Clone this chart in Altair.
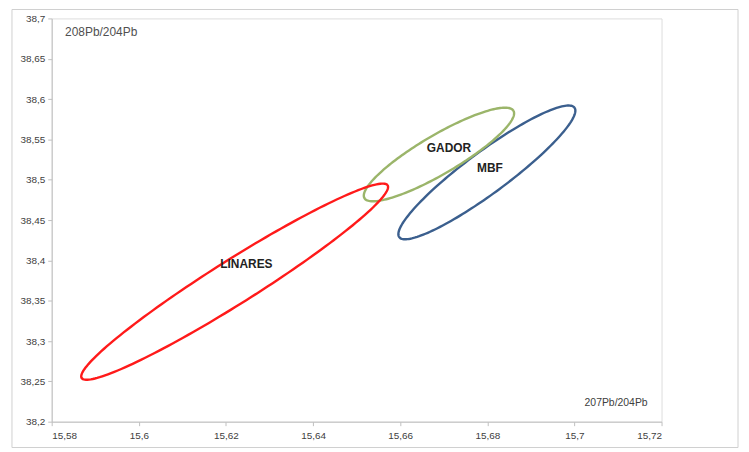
import altair as alt
import numpy as np
import pandas as pd

# Ellipse parameters (data units): centre and half-axis vectors
groups = ["MBF", "GADOR", "LINARES"]
center_x = [15.6799, 15.6689, 15.6220]
center_y = [38.5091, 38.5313, 38.3736]
major_dx = [0.020114, 0.017104, 0.03512]
major_dy = [0.080294, 0.054186, 0.119456]
minor_dx = [0.002851, 0.002258, 0.002668]
minor_dy = [-0.020812, -0.020812, -0.022906]
colors = ["#3b5f8e", "#9bb56a", "#ff1a1a"]

# Label positions
label_text = ["LINARES", "GADOR", "MBF"]
label_x = [15.6247, 15.6712, 15.6806]
label_y = [38.3958, 38.5387, 38.514]

x_ticks = [15.58, 15.6, 15.62, 15.64, 15.66, 15.68, 15.7, 15.72]
y_ticks = [38.2, 38.25, 38.3, 38.35, 38.4, 38.45, 38.5, 38.55, 38.6, 38.65, 38.7]

rows = []
t = np.linspace(0, 2 * np.pi, 181)
for i, g in enumerate(groups):
    for k, tt in enumerate(t):
        rows.append({
            "group": g,
            "order": i * 1000 + k,
            "x": center_x[i] + np.cos(tt) * major_dx[i] + np.sin(tt) * minor_dx[i],
            "y": center_y[i] + np.cos(tt) * major_dy[i] + np.sin(tt) * minor_dy[i],
        })
df = pd.DataFrame(rows)
labels = pd.DataFrame({"label": label_text, "x": label_x, "y": label_y})

W, H = 614, 406
xscale = alt.Scale(domain=[15.58, 15.72], nice=False, zero=False)
yscale = alt.Scale(domain=[38.2, 38.7], nice=False, zero=False)

frame = alt.Chart(pd.DataFrame({"a": [0]})).mark_rect(
    fill=None, stroke="#d0d0d0", strokeWidth=1
).encode(
    x=alt.value(-40), x2=alt.value(691), y=alt.value(-9), y2=alt.value(432)
)

lines = alt.Chart(df).mark_line(strokeWidth=2.4).encode(
    x=alt.X("x:Q", scale=xscale, axis=alt.Axis(
        values=x_ticks, labelExpr="replace(toString(datum.value), '.', ',')",
        title="207Pb/204Pb", titleX=536, titleY=-19, titleAlign="left",
        titleBaseline="middle", titleFontWeight="normal", titleFontSize=10.5,
        titleColor="#404040", grid=False, tickSize=4, labelPadding=5,
        domainColor="#bfbfbf", tickColor="#bfbfbf", labelColor="#404040",
        labelFontSize=10, labelFont="Liberation Sans", titleFont="Liberation Sans")),
    y=alt.Y("y:Q", scale=yscale, axis=alt.Axis(
        values=y_ticks, labelExpr="replace(toString(datum.value), '.', ',')",
        title="208Pb/204Pb", titleX=13, titleY=13, titleAngle=0, titleAlign="left",
        titleBaseline="middle", titleFontWeight="normal", titleFontSize=12,
        titleColor="#505050", grid=False, tickSize=4, labelPadding=3,
        domainColor="#bfbfbf", tickColor="#bfbfbf", labelColor="#404040",
        labelFontSize=10, labelFont="Liberation Sans", titleFont="Liberation Sans")),
    color=alt.Color("group:N", scale=alt.Scale(domain=groups, range=colors), legend=None),
    detail="group:N",
    order="order:Q",
)

text = alt.Chart(labels).mark_text(
    font="Liberation Sans", fontWeight="bold", fontSize=12, color="#222222"
).encode(
    x=alt.X("x:Q", scale=xscale),
    y=alt.Y("y:Q", scale=yscale),
    text="label:N",
)

chart = alt.layer(frame, lines, text).properties(
    width=W, height=H,
    padding={"left": 44, "top": 9, "right": 80, "bottom": 27},
    autosize=alt.AutoSizeParams(type="none"),
).configure_view(stroke=None).configure(background="white")

chart.save("out.html", embed_options={"renderer": "svg", "actions": False})
